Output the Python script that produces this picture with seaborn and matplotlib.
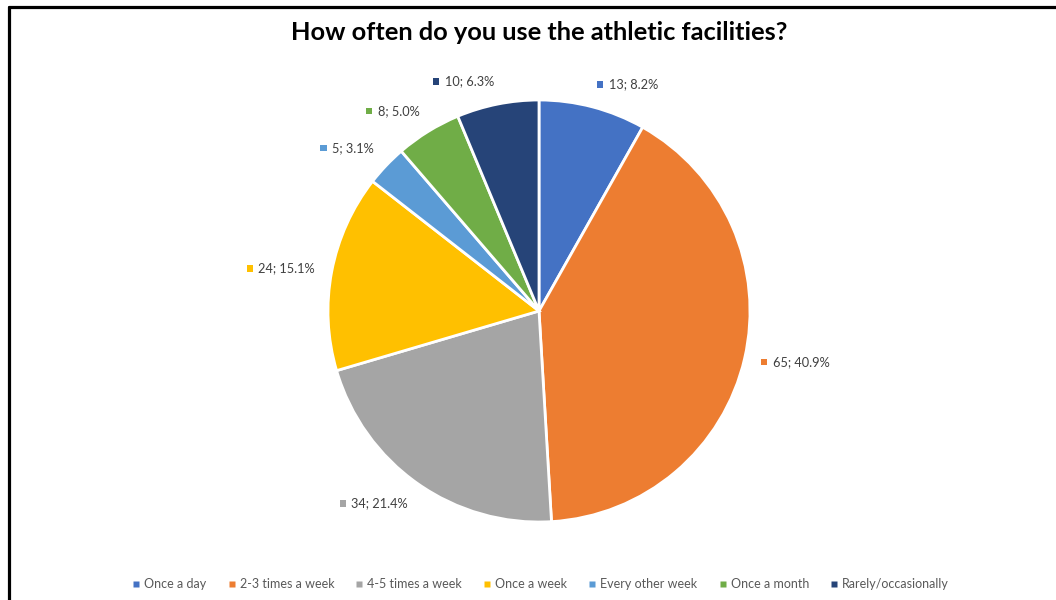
import matplotlib
matplotlib.use("Agg")
import matplotlib.pyplot as plt
import numpy as np
import seaborn as sns
from matplotlib.lines import Line2D
from matplotlib.patches import Rectangle
from matplotlib.offsetbox import AnnotationBbox, DrawingArea, HPacker, TextArea

# survey answers, clockwise from 12 o'clock
categories = ["Once a day", "2-3 times a week", "4-5 times a week", "Once a week",
              "Every other week", "Once a month", "Rarely/occasionally"]
counts = [13, 65, 34, 24, 5, 8, 10]
colors = ["#4472C4", "#ED7D31", "#A5A5A5", "#FFC000", "#5B9BD5", "#70AD47", "#264478"]
title = "How often do you use the athletic facilities?"

sns.set_theme(style="white")
plt.rcParams['font.family'] = ['Lato', 'DejaVu Sans']

W, H = 1056, 600
fig = plt.figure(figsize=(W / 100, H / 100), dpi=100)
fig.patch.set_facecolor("white")

# pie placed so that its centre and radius follow the reference
cx, cy, r = 539, 311, 211
ax = fig.add_axes([(cx - r) / W, 1 - (cy + r) / H, 2 * r / W, 2 * r / H])
palette = sns.color_palette(colors)
wedges, _ = ax.pie(counts, colors=palette, startangle=90, counterclock=False,
                   radius=1.0, wedgeprops=dict(edgecolor="white", linewidth=2))
ax.set_xlim(-1, 1)
ax.set_ylim(-1, 1)
ax.set_aspect("equal")
ax.axis("off")

# data labels "value; pct" with a small coloured square, outside end
total = sum(counts)
for w, n, c in zip(wedges, counts, palette):
    mid = np.deg2rad((w.theta1 + w.theta2) / 2)
    ca, sa = np.cos(mid), np.sin(mid)
    anchor = (1.08 * ca, 1.08 * sa)
    da = DrawingArea(4.5, 4.5, 0, 0)
    da.add_artist(Rectangle((0, 0), 4.5, 4.5, facecolor=c, edgecolor="none"))
    ta = TextArea(f"{n}; {n / total * 100:.1f}%",
                  textprops=dict(fontsize=9.2, color="#404040"))
    box = HPacker(children=[da, ta], pad=0, sep=4, align="center")
    bx = 0 if ca > 0 else 1
    if abs(sa) < 0.45:
        by = 0.5
    else:
        by = 0 if sa > 0 else 1
    ab = AnnotationBbox(box, anchor, xycoords="data", box_alignment=(bx, by),
                        frameon=False, pad=0, annotation_clip=False)
    ax.add_artist(ab)

fig.text(cx / W, 1 - 33 / H, title, ha="center", va="center",
         fontsize=18.3, fontweight="bold", color="black")

handles = [Line2D([0], [0], marker="s", linestyle="none", markersize=4.5,
                  markerfacecolor=c, markeredgecolor="none") for c in palette]
fig.legend(handles, categories, loc="center", bbox_to_anchor=(541 / W, 1 - 584 / H),
           ncol=7, frameon=False, fontsize=9, labelcolor="#595959",
           handlelength=0.5, handletextpad=0.4, columnspacing=1.75)

# partial black frame (top and left edges visible)
ytop = 1 - 7 / H
xleft = 9 / W
fig.add_artist(Line2D([xleft, 1], [ytop, ytop], color="black", linewidth=2.3,
                      transform=fig.transFigure))
fig.add_artist(Line2D([xleft, xleft], [0, ytop], color="black", linewidth=2.3,
                      transform=fig.transFigure))

fig.savefig("out.png", dpi=100)
